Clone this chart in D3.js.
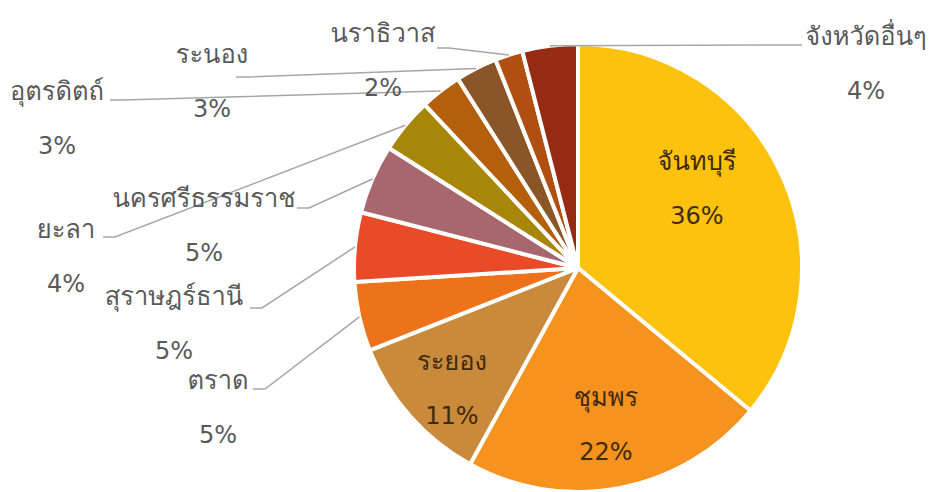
<!DOCTYPE html>
<html lang="th">
<head>
<meta charset="utf-8">
<script src="https://cdn.jsdelivr.net/npm/d3@7"></script>
<style>
  html, body { margin: 0; padding: 0; background: #ffffff; }
  svg { display: block; }
  text { font-family: "DejaVu Sans", Tahoma, "Leelawadee UI", Loma, Garuda, "Noto Sans Thai", "Noto Sans Thai UI", Waree, sans-serif; }
</style>
</head>
<body>
<svg id="chart" width="932" height="492"></svg>
<script>
// Share of production by province (percent), clockwise from 12 o'clock
const provinces = ['จันทบุรี', 'ชุมพร', 'ระยอง', 'ตราด', 'สุราษฎร์ธานี', 'นครศรีธรรมราช', 'ยะลา', 'อุตรดิตถ์', 'ระนอง', 'นราธิวาส', 'จังหวัดอื่นๆ'];
const shares = [36, 22, 11, 5, 5, 5, 4, 3, 3, 2, 4];
const sliceColors = ['#fdc20e', '#f6921e', '#c98a3c', '#ee7219', '#e94a27', '#a8676e', '#a8860a', '#b45f0b', '#8a5627', '#b04f11', '#962a13'];

// Label placement: text centre x, name baseline y, and where the leader line leaves the label
const labelLayout = [
  { x: 697, y: 170, inside: true },
  { x: 606, y: 406, inside: true },
  { x: 452, y: 370, inside: true },
  { x: 218, y: 389, lead: [253, 389], dir: 1 },
  { x: 174, y: 305, lead: [250, 308], dir: 1 },
  { x: 204, y: 207, lead: [297, 208], dir: 1 },
  { x: 66,  y: 238, lead: [103, 237], dir: 1 },
  { x: 57,  y: 100, lead: [110, 100], dir: 1 },
  { x: 212, y: 63,  lead: [236, 77],  dir: 1 },
  { x: 383, y: 42,  lead: [437, 48],  dir: 1 },
  { x: 866, y: 45,  lead: [802, 45],  dir: -1 }
];

const cx = 578, cy = 268, radius = 224;
const lineGap = 54;

const svg = d3.select('#chart');
const g = svg.append('g').attr('transform', `translate(${cx},${cy})`);

const pie = d3.pie().sort(null).value(d => d.value);
const arcs = pie(provinces.map((name, i) => ({ name, value: shares[i], i })));
const arc = d3.arc().innerRadius(0).outerRadius(radius);
const color = d3.scaleOrdinal().domain(provinces).range(sliceColors);

g.selectAll('path.slice')
  .data(arcs)
  .join('path')
  .attr('class', 'slice')
  .attr('d', arc)
  .attr('fill', d => color(d.data.name))
  .attr('stroke', '#ffffff')
  .attr('stroke-width', 4)
  .attr('stroke-linejoin', 'round');

// Leader lines from each outside label to the middle of its slice's rim
const rimPoint = d => {
  const a = (d.startAngle + d.endAngle) / 2;
  return [cx + radius * Math.sin(a), cy - radius * Math.cos(a)];
};

svg.append('g')
  .selectAll('path.leader')
  .data(arcs.filter(d => !labelLayout[d.index].inside))
  .join('path')
  .attr('class', 'leader')
  .attr('fill', 'none')
  .attr('stroke', '#a6a6a6')
  .attr('stroke-width', 1.5)
  .attr('d', d => {
    const L = labelLayout[d.index];
    const start = L.lead;
    const elbow = [start[0] + 12 * L.dir, start[1]];
    return d3.line()([start, elbow, rimPoint(d)]);
  });

// Name and percentage labels
const labels = svg.append('g')
  .selectAll('g.label')
  .data(arcs)
  .join('g')
  .attr('class', 'label')
  .attr('fill', d => labelLayout[d.index].inside ? '#3f2a0c' : '#595959')
  .attr('text-anchor', 'middle');

labels.append('text')
  .attr('x', d => labelLayout[d.index].x)
  .attr('y', d => labelLayout[d.index].y)
  .attr('font-size', 25.5)
  .text(d => d.data.name);

labels.append('text')
  .attr('x', d => labelLayout[d.index].x)
  .attr('y', d => labelLayout[d.index].y + lineGap)
  .attr('font-size', 24)
  .text(d => d.data.value + '%');
</script>
</body>
</html>
